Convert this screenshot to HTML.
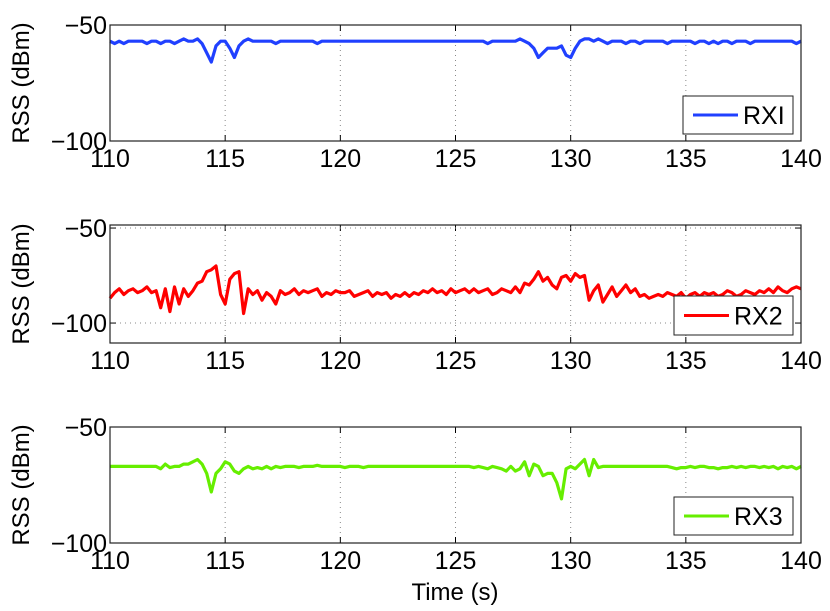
<!DOCTYPE html>
<html><head><meta charset="utf-8"><style>
html,body{margin:0;padding:0;background:#fff;}
svg{display:block;font-family:"Liberation Sans",sans-serif;}
</style></head><body>
<svg id="chart" width="830" height="611" viewBox="0 0 830 611"></svg>
<script>
const xTicks=[110,115,120,125,130,135,140];
const yTicks=[-50,-100];
const seriesNames=["RXI","RX2","RX3"];
const seriesColors=["#2040ff","#ff0000","#66ee00"];
const tStart=110, tStep=0.2;
const rx1=[-57,-58,-57,-58,-57,-57,-57,-57,-58,-57,
-57,-58,-57,-57,-58,-57,-56,-57,-57,-56,
-58,-62,-66,-59,-57,-57,-60,-64,-59,-57,
-56,-57,-57,-57,-57,-57,-58,-57,-57,-57,
-57,-57,-57,-57,-57,-58,-57,-57,-57,-57,
-57,-57,-57,-57,-57,-57,-57,-57,-57,-57,
-57,-57,-57,-57,-57,-57,-57,-57,-57,-57,
-57,-57,-57,-57,-57,-57,-57,-57,-57,-57,
-57,-57,-58,-57,-57,-57,-57,-57,-57,-56,
-57,-58,-60,-64,-62,-60,-60,-60,-59,-63,
-64,-60,-57,-56,-56,-57,-56,-57,-58,-57,
-57,-57,-58,-57,-57,-58,-57,-57,-57,-57,
-57,-58,-57,-57,-57,-57,-57,-58,-57,-57,
-58,-57,-58,-57,-57,-58,-57,-57,-57,-58,
-57,-57,-57,-57,-57,-57,-57,-57,-57,-58,-57];
const rx2=[-87,-84,-82,-85,-83,-82,-84,-83,-81,-84,
-83,-92,-82,-94,-81,-90,-82,-86,-83,-79,
-78,-73,-72,-70,-85,-90,-77,-74,-73,-95,
-82,-85,-83,-88,-84,-86,-90,-83,-85,-84,
-82,-85,-83,-84,-83,-82,-86,-84,-85,-83,
-84,-84,-83,-86,-85,-84,-83,-86,-84,-85,
-84,-87,-85,-86,-84,-86,-84,-85,-83,-84,
-82,-84,-83,-85,-82,-84,-83,-82,-84,-82,
-84,-83,-82,-85,-84,-82,-83,-84,-81,-84,
-79,-80,-77,-73,-78,-76,-80,-82,-76,-75,
-78,-74,-76,-75,-88,-83,-80,-89,-85,-81,
-86,-83,-80,-84,-82,-86,-85,-87,-86,-85,
-86,-84,-85,-86,-84,-87,-85,-84,-86,-84,
-85,-84,-86,-85,-83,-84,-86,-85,-83,-84,
-85,-83,-84,-82,-84,-81,-83,-84,-82,-81,-82];
const rx3=[-67,-67,-67,-67,-67,-67,-67,-67,-67,-67,
-67,-68,-66,-67.5,-67,-67,-66,-66,-65,-64,
-66,-70,-78,-70,-68,-65,-66,-69,-70,-68,
-67,-68,-67.5,-68,-67,-68,-67,-67.5,-67,-67,
-67,-67.5,-67,-67,-67,-66.5,-67,-67,-67,-67,
-67,-67.5,-67,-67,-67,-67.5,-67,-67,-67,-67,
-67,-67,-67,-67,-67,-67,-67,-67,-67,-67,
-67,-67,-67,-67,-67,-67,-67,-67,-67,-67.5,
-67,-67.5,-68,-67,-67.5,-68,-69,-67,-69,-68,
-65,-71,-66,-67,-71,-70,-70,-74,-81,-68,
-67,-68,-66,-64,-71,-64,-67.5,-67,-67,-67,
-67,-67,-67,-67,-67,-67,-67,-67,-67,-67,
-67,-67,-67.5,-68,-67.5,-67.5,-67,-67.5,-67,-67,
-67.5,-67.5,-68,-67.5,-67.5,-67,-67.5,-67,-67.5,-67,
-67,-67.5,-67,-67.5,-67,-68,-67,-67.5,-67,-68,-67];
const series=[rx1,rx2,rx3];
const panels=[{top:25,bottom:141,ymax:-50,ymin:-100,leg:[683,96,110,38]},
{top:225,bottom:343,ymax:-48.4,ymin:-110.5,leg:[674,296,119,39]},
{top:427,bottom:543,ymax:-50,ymin:-100,leg:[674,497,119,38]}];
const X0=110,X1=801;
const svg=document.getElementById('chart');
const NS='http://www.w3.org/2000/svg';
function mk(tag,attrs,parent){const e=document.createElementNS(NS,tag);for(const k in attrs)e.setAttribute(k,attrs[k]);(parent||svg).appendChild(e);return e;}
function xs(t){return X0+(t-110)/(140-110)*(X1-X0);}
panels.forEach((p,pi)=>{
  const ys=v=>p.top+(p.ymax-v)/(p.ymax-p.ymin)*(p.bottom-p.top);
  const g=mk('g',{});
  
  
  xTicks.forEach(t=>{const x=xs(t);
    if(t>110&&t<140){const l=mk('line',{x1:x,x2:x,y1:p.top,y2:p.bottom,stroke:'#888','stroke-dasharray':'1,4','stroke-width':1},g);
      }
    mk('line',{x1:x,x2:x,y1:p.bottom,y2:p.bottom-6,stroke:'#000'},g);
    mk('line',{x1:x,x2:x,y1:p.top,y2:p.top+6,stroke:'#000'},g);
    const tx=mk('text',{x:x,y:p.bottom+26,'text-anchor':'middle','font-size':25},g);tx.textContent=t;
    
  });
  yTicks.forEach(v=>{const y=ys(v);
    const l=mk('line',{x1:X0,x2:X1,y1:y,y2:y,stroke:'#888','stroke-dasharray':'1,4'},g);
    
    mk('line',{x1:X0,x2:X0+6,y1:y,y2:y,stroke:'#000'},g);
    mk('line',{x1:X1,x2:X1-6,y1:y,y2:y,stroke:'#000'},g);
    const tx=mk('text',{x:X0-3,y:y+9,'text-anchor':'end','font-size':25},g);tx.textContent='\u2212'+Math.abs(v);
    
  });
  const d=series[pi].map((v,i)=>(i?'L':'M')+xs(tStart+i*tStep).toFixed(1)+','+ys(v).toFixed(1)).join('');
  const path=mk('path',{d:d,fill:'none',stroke:seriesColors[pi],'stroke-width':3.2,'stroke-linejoin':'round'},g);
  
  
  const box=mk('rect',{x:X0,y:p.top,width:X1-X0,height:p.bottom-p.top,fill:'none',stroke:'#222','stroke-width':1.2},g);
  
  const yl=mk('text',{x:0,y:0,'font-size':24,'text-anchor':'middle',transform:'translate(29,'+((p.top+p.bottom)/2)+') rotate(-90)'},g);
  yl.textContent='RSS (dBm)';
  
  const [lx,ly,lw,lh]=p.leg;
  const lg=mk('g',{},g);
  
  mk('rect',{x:lx,y:ly,width:lw,height:lh,fill:'#fff',stroke:'#222'},lg);
  mk('line',{x1:lx+10,x2:lx+55,y1:ly+lh/2,y2:ly+lh/2,stroke:seriesColors[pi],'stroke-width':3},lg);
  const lt=mk('text',{x:lx+60,y:ly+lh/2+9,'font-size':25},lg);lt.textContent=seriesNames[pi];
  
});
const xt=mk('text',{x:455,y:600,'text-anchor':'middle','font-size':24});
xt.textContent='Time (s)';


</script>
</body></html>
